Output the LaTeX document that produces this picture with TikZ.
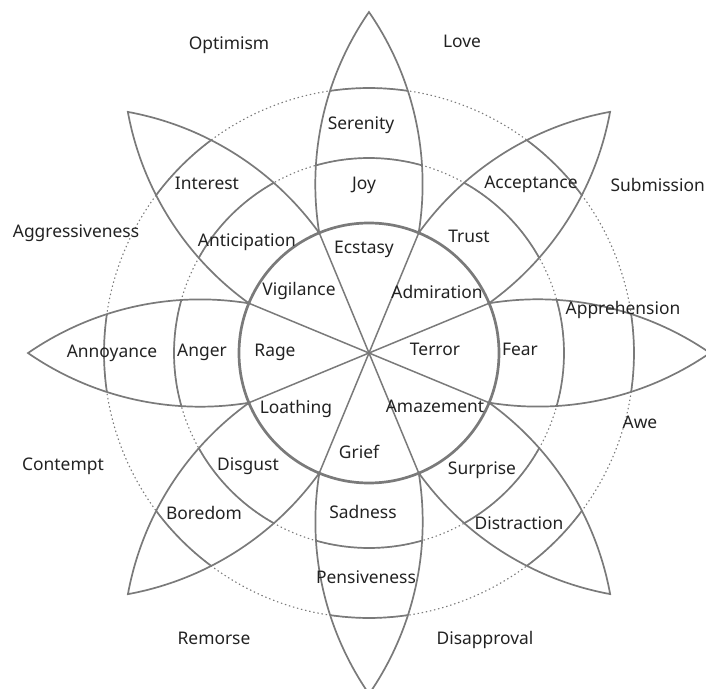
\documentclass[tikz,border=0pt]{standalone}
\usepackage{fontspec}
\setmainfont{Noto Sans}
\definecolor{linegrey}{HTML}{7A7A7A}
\definecolor{txt}{HTML}{222222}
\tikzset{
  petal/.style={draw=linegrey, line width=1.7pt},
  band/.style={draw=linegrey, line width=1.7pt},
  guide/.style={draw=linegrey, line width=1.1pt, dash pattern=on 1.4pt off 2.8pt},
  hub/.style={draw=linegrey, line width=2.7pt},
  spoke/.style={draw=linegrey, line width=1.5pt},
  lbl/.style={anchor=base, inner sep=0pt, text=txt, font=\fontsize{17.4}{20}\selectfont},
}
\begin{document}
\begin{tikzpicture}[x=1pt,y=1pt]
\useasboundingbox (-369,-335) rectangle (337,353);
% guide circles
\draw[guide] (0,0) circle[radius=195];
\draw[guide] (0,0) circle[radius=265];
% petals
\foreach \a in {0,45,...,315}{
  \begin{scope}[rotate=\a]
    \draw[petal] (120.1,49.75) arc[start angle=99.26,end angle=55.38,radius=303]
                 arc[start angle=-55.38,end angle=-99.26,radius=303];
    \draw[band] (15.78:195) arc[start angle=15.78,end angle=-15.78,radius=195];
    \draw[band] (8.44:265) arc[start angle=8.44,end angle=-8.44,radius=265];
  \end{scope}
}
% spokes
\coordinate (c) at (0,0);
\foreach \a in {22.5,67.5,...,337.5}{
  \draw[spoke] (c) -- (\a:130);
}
\draw[hub] (c) circle[radius=130];
% labels (pixel coords -> x-369, 353-y)
\node[lbl] (optimism) at (-140,303) {Optimism};
\node[lbl] (love) at (93,305) {Love};
\node[lbl,anchor=base east] (submission) at (336,161) {Submission};
\node[lbl] (aggr) at (-293,115) {Aggressiveness};
\node[lbl] (appr) at (254,39) {Apprehension};
\node[lbl] (awe) at (271,-75) {Awe};
\node[lbl] (contempt) at (-306,-117) {Contempt};
\node[lbl] (remorse) at (-155,-291) {Remorse};
\node[lbl] (disapp) at (116,-291) {Disapproval};
\node[lbl] (serenity) at (-8,223) {Serenity};
\node[lbl] (joy) at (-5,163) {Joy};
\node[lbl] (ecstasy) at (-5,99) {Ecstasy};
\node[lbl] (interest) at (-162,163) {Interest};
\node[lbl] (antic) at (-122,106) {Anticipation};
\node[lbl] (vigil) at (-70,57) {Vigilance};
\node[lbl] (accept) at (162,164) {Acceptance};
\node[lbl] (trust) at (100,110) {Trust};
\node[lbl] (admir) at (68,55) {Admiration};
\node[lbl] (annoy) at (-257,-4) {Annoyance};
\node[lbl] (anger) at (-167,-3) {Anger};
\node[lbl] (rage) at (-94,-3) {Rage};
\node[lbl] (terror) at (66,-2) {Terror};
\node[lbl] (fear) at (151,-2) {Fear};
\node[lbl] (loathing) at (-73,-60) {Loathing};
\node[lbl] (amaze) at (66,-59) {Amazement};
\node[lbl] (grief) at (-10,-105) {Grief};
\node[lbl] (disgust) at (-121,-117) {Disgust};
\node[lbl] (surprise) at (113,-121) {Surprise};
\node[lbl] (boredom) at (-165,-166) {Boredom};
\node[lbl] (distract) at (150,-176) {Distraction};
\node[lbl] (sadness) at (-6,-165) {Sadness};
\node[lbl] (pensive) at (-3,-230) {Pensiveness};
\end{tikzpicture}
\end{document}
